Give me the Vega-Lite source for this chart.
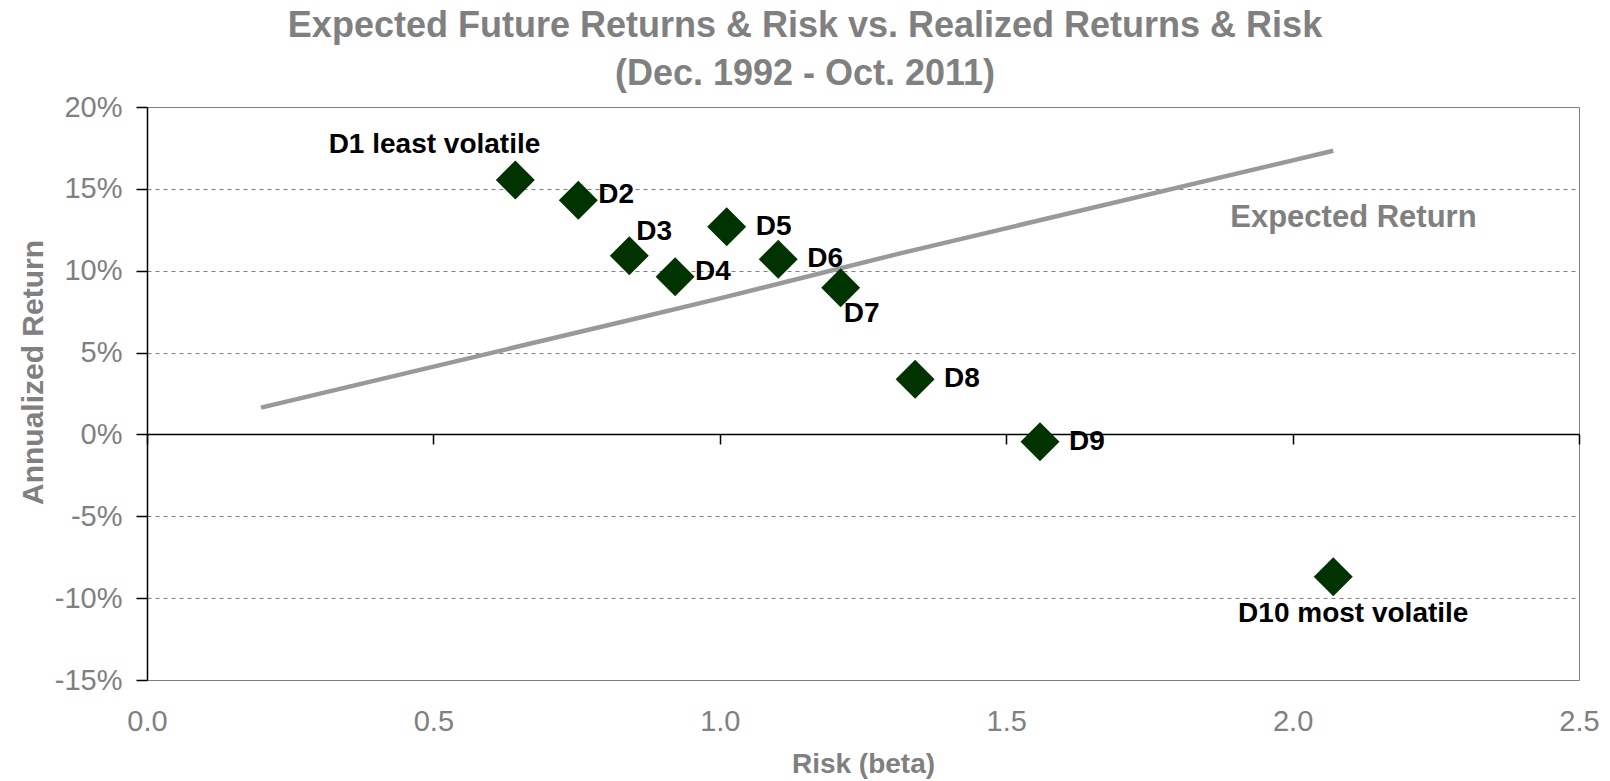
{
  "$schema": "https://vega.github.io/schema/vega-lite/v6.json",
  "width": 1432,
  "height": 573,
  "autosize": {"type": "none"},
  "padding": {"left": 147, "top": 107, "right": 31, "bottom": 101},
  "background": "white",
  "config": {
    "font": "Liberation Sans",
    "view": {"stroke": "#808080", "strokeWidth": 1}
  },
  "title": {
    "text": ["Expected Future Returns & Risk vs. Realized Returns & Risk", "(Dec. 1992 - Oct. 2011)"],
    "fontSize": 36,
    "fontWeight": "bold",
    "color": "#808080",
    "lineHeight": 48,
    "anchor": "middle",
    "frame": "group",
    "dx": -58,
    "offset": 0
  },
  "datasets": {
    "deciles": [
      {"decile": "D1", "label": "D1 least volatile", "beta": 0.643, "ret": 0.1554},
      {"decile": "D2", "label": "D2", "beta": 0.753, "ret": 0.1430},
      {"decile": "D3", "label": "D3", "beta": 0.842, "ret": 0.1092},
      {"decile": "D4", "label": "D4", "beta": 0.922, "ret": 0.0963},
      {"decile": "D5", "label": "D5", "beta": 1.012, "ret": 0.1269},
      {"decile": "D6", "label": "D6", "beta": 1.102, "ret": 0.1070},
      {"decile": "D7", "label": "D7", "beta": 1.211, "ret": 0.0896},
      {"decile": "D8", "label": "D8", "beta": 1.341, "ret": 0.0337},
      {"decile": "D9", "label": "D9", "beta": 1.559, "ret": -0.0045},
      {"decile": "D10", "label": "D10 most volatile", "beta": 2.071, "ret": -0.0869}
    ],
    "expected": [
      {"series": "Expected Return", "beta": 0.199, "ret": 0.0164},
      {"series": "Expected Return", "beta": 0.843, "ret": 0.0699},
      {"series": "Expected Return", "beta": 1.0, "ret": 0.0831},
      {"series": "Expected Return", "beta": 1.315, "ret": 0.1106},
      {"series": "Expected Return", "beta": 2.071, "ret": 0.1733}
    ]
  },
  "layer": [
    {
      "data": {"name": "expected"},
      "mark": {"type": "line", "color": "#999999", "strokeWidth": 4.5},
      "encoding": {
        "x": {
          "field": "beta", "type": "quantitative",
          "scale": {"domain": [0, 2.5], "nice": false, "zero": false},
          "axis": {
            "orient": "bottom", "offset": -246, "values": [0, 0.5, 1, 1.5, 2, 2.5],
            "labels": false, "ticks": true, "tickColor": "black", "tickSize": 10, "tickWidth": 1.5,
            "domain": true, "domainColor": "black", "domainWidth": 1.5, "grid": false, "title": null
          }
        },
        "y": {
          "field": "ret", "type": "quantitative",
          "scale": {"domain": [-0.15, 0.2], "nice": false, "zero": false},
          "axis": {
            "values": [-0.15, -0.1, -0.05, 0, 0.05, 0.1, 0.15, 0.2],
            "labelExpr": "round(datum.value*100) + '%'",
            "grid": true, "gridColor": "#808080", "gridDash": [4, 4], "gridWidth": 1,
            "domainColor": "black", "domainWidth": 1.5,
            "tickColor": "black", "tickSize": 11, "tickWidth": 1.5,
            "labelFontSize": 29, "labelColor": "#808080", "labelPadding": 14,
            "title": "Annualized Return", "titleFontSize": 30, "titleFontWeight": "bold", "titleColor": "#808080",
            "titleX": -114, "titleY": 265, "titleAngle": 270, "titleBaseline": "middle", "titleAlign": "center"
          }
        }
      }
    },
    {
      "data": {"name": "deciles"},
      "mark": {"type": "point", "shape": "diamond", "filled": true, "size": 1520, "color": "#003300", "opacity": 1},
      "encoding": {
        "x": {
          "field": "beta", "type": "quantitative",
          "scale": {"domain": [0, 2.5], "nice": false, "zero": false},
          "axis": {
            "orient": "bottom", "values": [0, 0.5, 1, 1.5, 2, 2.5], "format": ".1f",
            "labelFontSize": 29, "labelColor": "#808080", "labelPadding": 41, "labelBaseline": "middle",
            "labelFlush": false, "labelOverlap": false,
            "ticks": false, "tickSize": 0, "domain": false, "grid": false,
            "title": "Risk (beta)", "titleFontSize": 28, "titleFontWeight": "bold", "titleColor": "#808080",
            "titleY": 84, "titleBaseline": "middle"
          }
        },
        "y": {"field": "ret", "type": "quantitative"}
      }
    },
    {
      "data": {"name": "deciles"},
      "transform": [{"filter": {"field": "decile", "oneOf": ["D5", "D6", "D8", "D9"]}}],
      "mark": {"type": "text", "align": "left", "baseline": "middle", "dx": 29, "dy": 0, "fontSize": 28, "fontWeight": "bold", "color": "black"},
      "encoding": {
        "x": {"field": "beta", "type": "quantitative", "axis": null},
        "y": {"field": "ret", "type": "quantitative"},
        "text": {"field": "label"}
      }
    },
    {
      "data": {"name": "deciles"},
      "transform": [{"filter": {"field": "decile", "oneOf": ["D2", "D4"]}}],
      "mark": {"type": "text", "align": "left", "baseline": "middle", "dx": 20, "dy": -5, "fontSize": 28, "fontWeight": "bold", "color": "black"},
      "encoding": {
        "x": {"field": "beta", "type": "quantitative", "axis": null},
        "y": {"field": "ret", "type": "quantitative"},
        "text": {"field": "label"}
      }
    },
    {
      "data": {"name": "deciles"},
      "transform": [{"filter": {"field": "decile", "equal": "D3"}}],
      "mark": {"type": "text", "align": "left", "baseline": "middle", "dx": 7, "dy": -24, "fontSize": 28, "fontWeight": "bold", "color": "black"},
      "encoding": {
        "x": {"field": "beta", "type": "quantitative", "axis": null},
        "y": {"field": "ret", "type": "quantitative"},
        "text": {"field": "label"}
      }
    },
    {
      "data": {"name": "deciles"},
      "transform": [{"filter": {"field": "decile", "equal": "D7"}}],
      "mark": {"type": "text", "align": "left", "baseline": "middle", "dx": 3, "dy": 26, "fontSize": 28, "fontWeight": "bold", "color": "black"},
      "encoding": {
        "x": {"field": "beta", "type": "quantitative", "axis": null},
        "y": {"field": "ret", "type": "quantitative"},
        "text": {"field": "label"}
      }
    },
    {
      "data": {"name": "deciles"},
      "transform": [{"filter": {"field": "decile", "equal": "D1"}}],
      "mark": {"type": "text", "align": "right", "baseline": "middle", "dx": 25, "dy": -35, "fontSize": 28, "fontWeight": "bold", "color": "black"},
      "encoding": {
        "x": {"field": "beta", "type": "quantitative", "axis": null},
        "y": {"field": "ret", "type": "quantitative"},
        "text": {"field": "label"}
      }
    },
    {
      "data": {"name": "deciles"},
      "transform": [{"filter": {"field": "decile", "equal": "D10"}}],
      "mark": {"type": "text", "align": "center", "baseline": "middle", "dx": 20, "dy": 37, "fontSize": 28, "fontWeight": "bold", "color": "black"},
      "encoding": {
        "x": {"field": "beta", "type": "quantitative", "axis": null},
        "y": {"field": "ret", "type": "quantitative"},
        "text": {"field": "label"}
      }
    },
    {
      "data": {"name": "expected"},
      "transform": [{"filter": "datum.beta == 2.071"}],
      "mark": {"type": "text", "align": "left", "baseline": "middle", "dx": -103, "dy": 67, "fontSize": 31, "fontWeight": "bold", "color": "#808080"},
      "encoding": {
        "x": {"field": "beta", "type": "quantitative", "axis": null},
        "y": {"field": "ret", "type": "quantitative"},
        "text": {"field": "series"}
      }
    }
  ],
  "resolve": {"axis": {"x": "independent"}}
}
